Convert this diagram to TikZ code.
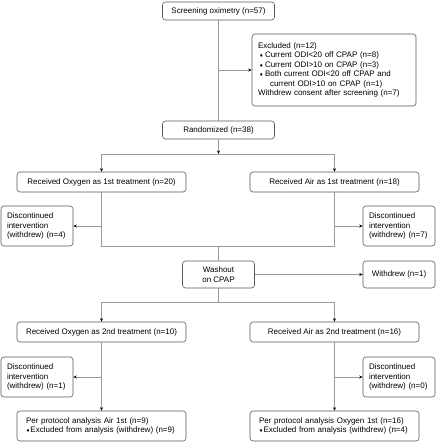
\documentclass[tikz,border=0pt]{standalone}
\usepackage{fontspec}
\setmainfont{Liberation Sans}
\newfontfamily\djv{DejaVu Sans}
\usetikzlibrary{arrows.meta}
\newcommand{\bul}{\makebox[7pt][c]{\djv\fontsize{4.5}{5}\selectfont ♦}}
\newcommand{\bulb}{\makebox[4.5pt][l]{\djv\fontsize{4.5}{5}\selectfont ♦}}
\begin{document}
\begin{tikzpicture}[x=1pt,y=-1pt,
  box/.style={draw=black!65, rounded corners=3pt, line width=0.6pt,
    font=\fontsize{8}{9.5}\selectfont, inner sep=0pt, align=center},
  disc/.style={box, minimum width=72pt, minimum height=40pt, text width=60pt, align=left},
  pp/.style={box, minimum width=169pt, minimum height=30pt, text width=151pt, align=left},
  wide/.style={box, minimum width=169pt, minimum height=20pt},
  small/.style={box, minimum width=72pt, minimum height=27pt},
  conn/.style={draw=black!40, line width=0.7pt},
  arr/.style={conn, -{Stealth[length=3.5pt,width=3pt,color=black]}}]
\useasboundingbox (0,0) rectangle (437,442);
\node[box, minimum width=112pt, minimum height=18pt] (scr) at (218.5,11) {Screening oximetry (n=57)};
\node[box, minimum width=164pt, minimum height=72pt, text width=152pt, align=left] (exc) at (334,70)
  {Excluded (n=12)\\
   \bul Current ODI<20 off CPAP (n=8)\\
   \bul Current ODI>10 on CPAP (n=3)\\
   \bul Both current ODI<20 off CPAP and\\
   \hspace*{12pt}current ODI>10 on CPAP (n=1)\\
   Withdrew consent after screening (n=7)};
\node[box, minimum width=112pt, minimum height=18pt] (rnd) at (218.5,130) {Randomized (n=38)};
\node[wide] (o1) at (101.5,182) {Received Oxygen as 1st treatment (n=20)};
\node[wide] (a1) at (334.5,182) {Received Air as 1st treatment (n=18)};
\node[disc] (d1) at (37,226) {Discontinued\\intervention\\(withdrew) (n=4)};
\node[disc] (d2) at (399,226) {Discontinued\\intervention\\(withdrew) (n=7)};
\node[small] (wash) at (218.5,274.5) {Washout\\on CPAP};
\node[small] (wd) at (399,274.5) {Withdrew (n=1)};
\node[wide] (o2) at (101.5,332) {Received Oxygen as 2nd treatment (n=10)};
\node[wide] (a2) at (334.5,332) {Received Air as 2nd treatment (n=16)};
\node[disc] (d3) at (37,377) {Discontinued\\intervention\\(withdrew) (n=1)};
\node[disc] (d4) at (399,377) {Discontinued\\intervention\\(withdrew) (n=0)};
\node[pp] (p1) at (101.5,426) {Per protocol analysis Air 1st (n=9)\\\bulb Excluded from analysis (withdrew) (n=9)};
\node[pp] (p2) at (334.5,426) {Per protocol analysis Oxygen 1st (n=16)\\\bulb Excluded from analysis (withdrew) (n=4)};
\coordinate (h1) at (218.5,154);
\coordinate (m1) at (218.5,246);
\coordinate (m2) at (218.5,302);
% connectors
\draw[conn] (scr) -- (rnd);
\draw[arr] (scr.south |- exc.west) -- (exc.west);
\draw[arr] (rnd) -- (h1);
\draw[conn] (o1.north |- h1) -- (a1.north |- h1);
\draw[arr] (o1.north |- h1) -- (o1);
\draw[arr] (a1.north |- h1) -- (a1);
\draw[conn] (o1) -- (o1.south |- m1) -- (a1.south |- m1) -- (a1);
\draw[arr] (o1.south |- d1.east) -- (d1.east);
\draw[arr] (a1.south |- d2.west) -- (d2.west);
\draw[conn] (m1) -- (wash);
\draw[arr] (wash) -- (wd);
\draw[conn] (wash) -- (m2);
\draw[conn] (o2.north |- m2) -- (a2.north |- m2);
\draw[arr] (o2.north |- m2) -- (o2);
\draw[arr] (a2.north |- m2) -- (a2);
\draw[arr] (o2) -- (p1);
\draw[arr] (a2) -- (p2);
\draw[arr] (o2.south |- d3.east) -- (d3.east);
\draw[arr] (a2.south |- d4.west) -- (d4.west);
\end{tikzpicture}
\end{document}
